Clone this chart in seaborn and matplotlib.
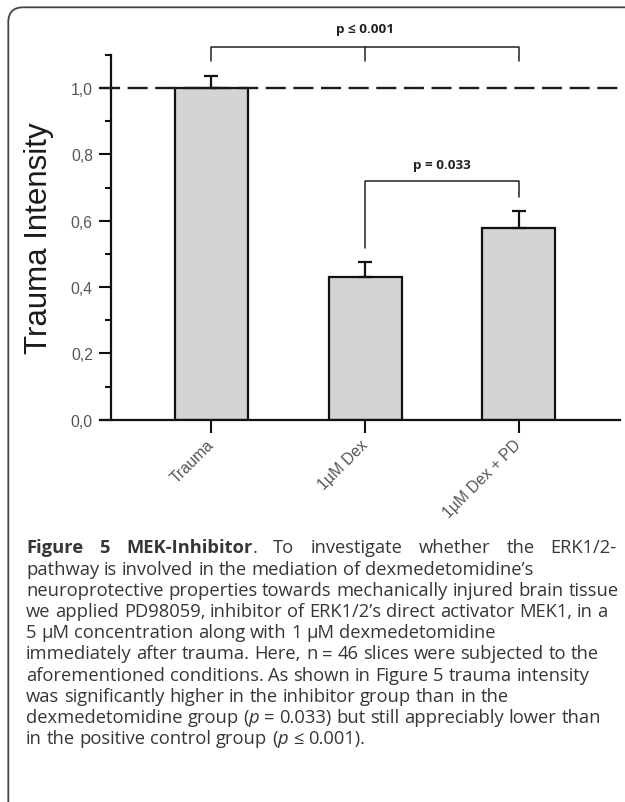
import numpy as np
import pandas as pd
import matplotlib
matplotlib.use("Agg")
import matplotlib.pyplot as plt
import seaborn as sns
from matplotlib.patches import PathPatch
from matplotlib.path import Path

# ---------------- data ----------------
categories = ["Trauma", "1µM Dex", "1µM Dex + PD"]
means = [1.0, 0.431, 0.578]
sem = [0.037, 0.044, 0.051]
ytick_values = [0.0, 0.2, 0.4, 0.6, 0.8, 1.0]
ytick_labels = ["0,0", "0,2", "0,4", "0,6", "0,8", "1,0"]
yminor_values = [0.1, 0.3, 0.5, 0.7, 0.9, 1.1]
reference_level = 1.0
comparisons = [("Trauma", "1µM Dex + PD", "p ≤ 0.001"),
               ("1µM Dex", "1µM Dex + PD", "p = 0.033")]
y_label = "Trauma Intensity"
caption_lines = [
    [("Figure 5 MEK-Inhibitor", "b"), (". To investigate whether the ERK1/2-", "n")],
    [("pathway is involved in the mediation of dexmedetomidine’s", "n")],
    [("neuroprotective properties towards mechanically injured brain tissue", "n")],
    [("we applied PD98059, inhibitor of ERK1/2’s direct activator MEK1, in a", "n")],
    [("5 µM concentration along with 1 µM dexmedetomidine", "n")],
    [("immediately after trauma. Here, n = 46 slices were subjected to the", "n")],
    [("aforementioned conditions. As shown in Figure 5 trauma intensity", "n")],
    [("was significantly higher in the inhibitor group than in the", "n")],
    [("dexmedetomidine group (", "n"), ("p", "i"), (" = 0.033) but still appreciably lower than", "n")],
    [("in the positive control group (", "n"), ("p", "i"), (" ≤ 0.001).", "n")],
]

# ---------------- style ----------------
sns.set_style("ticks")
plt.rcParams["font.family"] = ["Liberation Sans", "DejaVu Sans"]

W, H = 625, 803
fig = plt.figure(figsize=(W / 100, H / 100), dpi=100)
fig.patch.set_facecolor("white")

ax = fig.add_axes([99.6 / W, 1 - 420.7 / H, (619.8 - 99.6) / W, (420.7 - 22.66) / H])
ax.set_facecolor("none")

df = pd.DataFrame({"group": categories, "value": means, "sem": sem})
sns.barplot(data=df, x="group", y="value", order=categories, color="#d4d4d4",
            saturation=1, edgecolor="#111111", linewidth=1.6, width=0.475,
            errorbar=None, ax=ax, zorder=2)

xpos = np.arange(len(categories))
ax.errorbar(xpos, df["value"], yerr=[np.zeros(len(sem)), df["sem"]], fmt="none",
            ecolor="#111111", elinewidth=1.6, capsize=4.7, capthick=1.6, zorder=3)

ax.axhline(reference_level, color="#1a1a1a", lw=1.7, dashes=(8.5, 3.2), zorder=4)

ax.set_xlim(-0.728, 2.657)
ax.set_ylim(0, 1.2)

for s in ["top", "right"]:
    ax.spines[s].set_visible(False)
ax.spines["left"].set_position(("data", -0.651))
ax.spines["left"].set_bounds(0, 1.1)
for s in ["left", "bottom"]:
    ax.spines[s].set_linewidth(1.6)
    ax.spines[s].set_color("#111111")

ax.set_yticks(ytick_values, ytick_labels)
ax.set_yticks(yminor_values, minor=True)
ax.tick_params(axis="y", which="major", length=8.4, width=1.5, color="#111111",
               labelsize=11.3, labelcolor="#555555", pad=5)
ax.tick_params(axis="y", which="minor", length=4.5, width=1.5, color="#111111")
ax.tick_params(axis="x", which="major", length=9, width=1.5, color="#111111",
               labelsize=11.3, labelcolor="#555555", pad=7)
ax.set_xticks(xpos, categories)
for lab in ax.get_xticklabels():
    lab.set_rotation(45)
    lab.set_ha("right")
    lab.set_va("center")
    lab.set_rotation_mode("anchor")
ax.set_xlabel("")
ax.set_ylabel("")

# significance brackets
bracket_geom = [
    dict(y=1.1245, left_drop=1.0814, right_drop=1.0814, mid=True, ty=1.178),
    dict(y=0.7196, left_drop=0.5167, right_drop=0.6714, mid=False, ty=0.769),
]
for (a, b, label), g in zip(comparisons, bracket_geom):
    xa, xb = categories.index(a), categories.index(b)
    ax.plot([xa, xa, xb, xb], [g["left_drop"], g["y"], g["y"], g["right_drop"]],
            color="#222222", lw=1.1, clip_on=False, zorder=5)
    if g["mid"]:
        xm = (xa + xb) / 2
        ax.plot([xm, xm], [g["y"], g["left_drop"]], color="#222222", lw=1.1,
                clip_on=False, zorder=5)
    ax.text((xa + xb) / 2, g["ty"], label, ha="center", va="center",
            fontsize=9.7, fontweight="bold", color="#222222",
            family=["Open Sans", "DejaVu Sans"], clip_on=False)

fig.text(39 / W, 1 - 238.5 / H, y_label, rotation=90, ha="center", va="center",
         fontsize=22.5, color="#1a1a1a")

# border: left edge + rounded top-left corner + top edge (open to right/bottom)
bx, by, r = 8.3, 8.3, 15.0


def to_in(px, py):
    return (px / 100.0, (H - py) / 100.0)


verts = [to_in(bx, H + 10), to_in(bx, by + r), to_in(bx, by), to_in(bx + r, by),
         to_in(W + 10, by)]
codes = [Path.MOVETO, Path.LINETO, Path.CURVE3, Path.CURVE3, Path.LINETO]
border = PathPatch(Path(verts, codes), transform=fig.dpi_scale_trans, fill=False,
                   lw=1.3, ec="#444444")
fig.add_artist(border)

# caption
renderer = fig.canvas.get_renderer()
cap_family = ["Open Sans", "DejaVu Sans"]
cap_color = "#363636"


def props(style, size):
    p = dict(fontsize=size, family=cap_family, color=cap_color)
    if style == "b":
        p["fontweight"] = "bold"
    if style == "i":
        p["fontstyle"] = "italic"
    return p


def twidth(s, style, size):
    t1 = fig.text(0, 0, "|" + s + "|", **props(style, size))
    t2 = fig.text(0, 0, "||", **props(style, size))
    w = t1.get_window_extent(renderer).width - t2.get_window_extent(renderer).width
    t1.remove()
    t2.remove()
    return w


def line_width(pieces, size):
    return sum(twidth(s, st, size) for s, st in pieces)


base = 10.0
size = base * 594.0 / line_width(caption_lines[2], base)

x0 = 26.0
right = 617.0
baseline0 = 553.5
step = 21.2


def split_words(pieces):
    words = [[]]
    for s, st in pieces:
        parts = s.split(" ")
        for k, p in enumerate(parts):
            if k > 0:
                words.append([])
            if p:
                words[-1].append((p, st))
    return [w for w in words if w]


for i, pieces in enumerate(caption_lines):
    yb = baseline0 + i * step
    words = split_words(pieces)
    widths = [sum(twidth(s, st, size) for s, st in w) for w in words]
    if i == 0:
        gap = (right - x0 - sum(widths)) / (len(words) - 1)
    else:
        gap = twidth(" ", "n", size)
    x = x0
    for w, ww in zip(words, widths):
        xx = x
        for s, st in w:
            fig.text(xx / W, 1 - yb / H, s, ha="left", va="baseline", **props(st, size))
            xx += twidth(s, st, size)
        x += ww + gap

fig.savefig("out.png", dpi=100, facecolor="white")
